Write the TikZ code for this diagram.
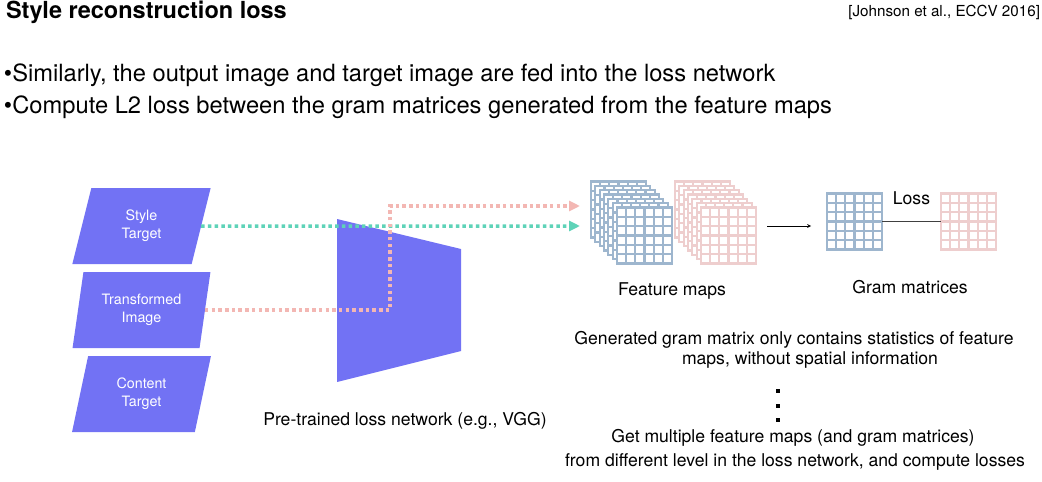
\documentclass[tikz,border=0pt]{standalone}
\usepackage{fontspec}
\setmainfont{TeX Gyre Heros}
\usetikzlibrary{positioning,shapes.geometric,arrows.meta}
\definecolor{NetPurple}{HTML}{7272F4}
\definecolor{MapBlue}{HTML}{9EB6CE}
\definecolor{MapPink}{HTML}{EECECE}
\definecolor{PathGreen}{HTML}{5ED3B8}
\definecolor{PathPink}{HTML}{F3B7B3}

% one 6x6 feature grid: name, x, y, colour
\newcommand{\gridmap}[4]{%
  \node[gridsq,draw=#4] (#1) at (#2,#3) {};
  \foreach \gi in {1,...,5}{
    \draw[#4,line width=2.2pt] ([xshift=\gi*9.17pt]#1.north west) -- ([xshift=\gi*9.17pt]#1.south west);
    \draw[#4,line width=2.2pt] ([yshift=-\gi*9.33pt]#1.north west) -- ([yshift=-\gi*9.33pt]#1.north east);}}

\begin{document}
\begin{tikzpicture}[x=1pt,y=-1pt,>=stealth,
    every node/.style={inner sep=0pt,outer sep=0pt},
    inbox/.style={trapezium,trapezium left angle=76.7,trapezium right angle=103.3,
      trapezium stretches=true,minimum width=139pt,minimum height=76pt,
      fill=NetPurple,text=white,align=center,font=\fontsize{14.3}{18}\selectfont},
    gridsq/.style={minimum width=55pt,minimum height=56pt,fill=white,line width=2.2pt},
    dotline/.style={line width=3.5pt,dash pattern=on 3.5pt off 3.2pt,
      -{Triangle[length=11pt,width=10pt]}},
    lbl/.style={font=\fontsize{17.6}{20}\selectfont}]
  \useasboundingbox (0,0) rectangle (1042,482);

  % header
  \node[font=\bfseries\fontsize{23.5}{26}\selectfont,anchor=west] (title) at (6,12)
    {Style reconstruction loss};
  \node[font=\fontsize{15.2}{17}\selectfont,anchor=east] (cite) at (1040,12)
    {[Johnson et al., ECCV 2016]};
  \node[font=\fontsize{23.7}{27}\selectfont,anchor=west] (bul1) at (4,75)
    {•Similarly, the output image and target image are fed into the loss network};
  \node[font=\fontsize{23.7}{27}\selectfont,anchor=west] (bul2) at (4,107)
    {•Compute L2 loss between the gram matrices generated from the feature maps};

  % inputs
  \node[inbox] (style) at (141.5,226) {Style\\Target};
  \node[inbox] (trans) at (141.5,310) {Transformed\\Image};
  \node[inbox] (content) at (141.5,394) {Content\\Target};

  % loss network
  \fill[NetPurple] (337,219) -- (461,249) -- (461,351) -- (337,382) -- cycle;
  \node[lbl] (netlabel) at (405,421) {Pre-trained loss network (e.g., VGG)};

  % feature map stacks
  \foreach \k in {0,...,6}{
    \gridmap{fmb\k}{618.5+4.33*\k}{209.5+4.33*\k}{MapBlue}}
  \foreach \k in {0,...,6}{
    \gridmap{fmp\k}{702.5+4.33*\k}{209.5+4.33*\k}{MapPink}}
  \node[lbl] (fmlabel) at (672,291) {Feature maps};

  \coordinate (mapsin) at (580,226);
  \coordinate (mapsinp) at (580,206);
  \draw[dotline,PathGreen] (style.east) -- (mapsin);
  \draw[dotline,PathPink] (trans.east) -- ++(185,0) |- (mapsinp);

  % gram matrices
  \gridmap{gb}{854.5}{221.5}{MapBlue}
  \gridmap{gp}{968.5}{221.5}{MapPink}
  \coordinate (mapsout) at (767,226);
  \coordinate (gramin) at (811,226);
  \draw[->,line width=0.7pt] (mapsout) -- (gramin);
  \draw[line width=0.8pt,black!75] (gb.east) -- (gp.west)
    node[midway,above=17pt,lbl,text=black] (losslabel) {Loss};
  \node[lbl] (gmlabel) at (910,287) {Gram matrices};

  % notes
  \node[lbl,align=center] (note) at (794,350)
    {Generated gram matrix only contains statistics of feature\\\hspace*{32pt}maps, without spatial information};
  \foreach \yy in {391,406,420}{
    \fill (776,\yy-2) rectangle ++(4,4);}
  \node[lbl] (multi1) at (793,438) {Get multiple feature maps (and gram matrices)};
  \node[lbl] (multi2) at (795,462) {from different level in the loss network, and compute losses};
\end{tikzpicture}
\end{document}
